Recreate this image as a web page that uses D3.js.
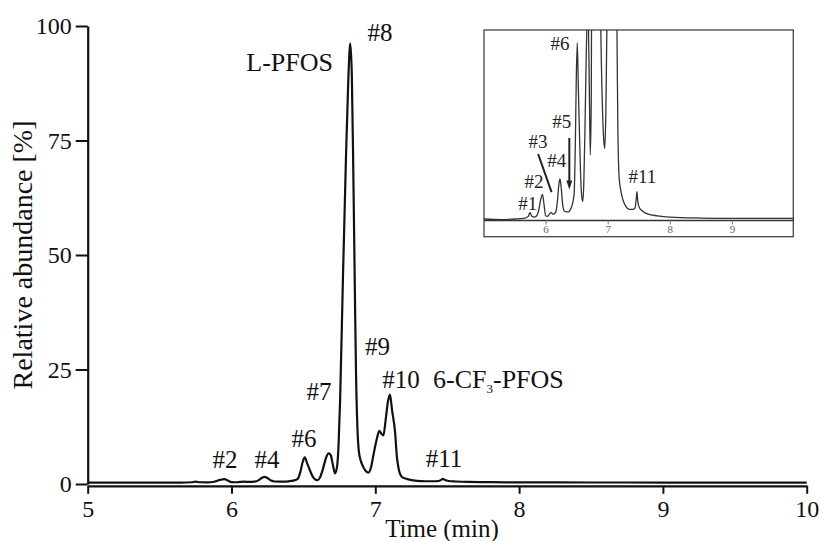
<!DOCTYPE html>
<html>
<head>
<meta charset="utf-8">
<script src="https://cdn.jsdelivr.net/npm/d3@7"></script>
<style>
  html, body { margin: 0; padding: 0; background: #fff; }
  svg { display: block; }
  svg text { font-family: "Liberation Serif", "Times New Roman", serif; }
</style>
</head>
<body>
<svg id="chart" width="821" height="541"></svg>
<script>
// ---- data ----
const timeMin = [5.00,5.30,5.50,5.65,5.72,5.75,5.78,5.83,5.88,5.92,5.95,5.975,6.00,6.03,6.06,6.09,6.12,6.16,6.19,6.215,6.232,6.25,6.275,6.30,6.34,6.37,6.40,6.43,6.46,6.48,6.495,6.51,6.525,6.545,6.565,6.585,6.60,6.615,6.635,6.655,6.675,6.69,6.705,6.72,6.735,6.745,6.755,6.775,6.795,6.812,6.826,6.837,6.848,6.858,6.866,6.876,6.886,6.90,6.915,6.935,6.952,6.97,6.988,7.008,7.028,7.042,7.056,7.072,7.088,7.102,7.117,7.137,7.15,7.162,7.184,7.21,7.245,7.29,7.35,7.40,7.44,7.458,7.47,7.485,7.51,7.56,7.65,7.80,8.00,8.50,9.00,9.50,10.00];
const abundance = [0.30,0.28,0.30,0.32,0.38,0.50,0.38,0.36,0.50,0.90,1.07,0.75,0.40,0.38,0.45,0.50,0.45,0.50,0.85,1.40,1.55,1.30,0.75,0.55,0.52,0.52,0.60,0.75,1.10,2.80,4.8,5.8,4.6,3.0,1.6,0.95,0.85,1.4,3.2,5.5,6.7,6.3,4.2,2.3,4.0,9,18,45,70,88,96.2,89,66,42,24,12,7,5,3.8,2.8,2.5,3.6,6.5,9.5,11.6,11.0,10.6,14,18,19.5,16,11.5,6,3.4,1.6,1.2,0.9,0.7,0.6,0.6,0.65,0.9,1.15,0.85,0.65,0.55,0.45,0.40,0.36,0.33,0.32,0.32,0.32];

const xTicks = [5,6,7,8,9,10];
const yTicks = [0,25,50,75,100];
const insetXTicks = [6,7,8,9];

const peakLabels = ["#2","#4","#6","#7","#8","#9","#10","#11"];
const peakLabelTime = [5.955,6.247,6.504,6.608,7.033,7.015,7.179,7.478];
const peakLabelLevel = [3.5,3.5,8.1,18.3,96.7,28.2,21.0,3.7];

const insetPeakLabels = ["#6","#5","#3","#4","#2","#1","#11"];
const insetLabelTime = [6.232,6.259,5.878,6.179,5.813,5.713,7.56];
const insetLabelLevel = [5.58,3.14,2.52,1.92,1.27,0.58,1.42];

// ---- drawing ----
const svg = d3.select("#chart");
const x = d3.scaleLinear().domain([5,10]).range([87.7,806.7]);
const y = d3.scaleLinear().domain([0,100]).range([484,26]);
const pts = timeMin.map((t,i)=>({t, v:abundance[i]}));

// main trace
const line = d3.line().x(d=>x(d.t)).y(d=>y(d.v)).curve(d3.curveMonotoneX);
svg.append("path").datum(pts).attr("d", line)
  .attr("fill","none").attr("stroke","#111").attr("stroke-width",2.2).attr("stroke-linejoin","round");

// axes
const xAxis = svg.append("g").attr("transform","translate(0,485.8)")
  .call(d3.axisBottom(x).tickValues(xTicks).tickFormat(d3.format("d")).tickSize(8).tickSizeOuter(0).tickPadding(6));
const yAxis = svg.append("g").attr("transform","translate(87.7,0)")
  .call(d3.axisLeft(y).tickValues(yTicks).tickFormat(d3.format("d")).tickSize(12).tickSizeOuter(0).tickPadding(4));
[xAxis,yAxis].forEach(g=>{
  g.attr("font-family",null).attr("font-size",null);
  g.selectAll("path.domain").attr("stroke","#111").attr("stroke-width",2.2);
  g.selectAll(".tick line").attr("stroke","#111").attr("stroke-width",2);
  g.selectAll(".tick text").attr("fill","#111").style("font-size","24px");
});

// axis titles
svg.append("text").attr("x",442).attr("y",537).attr("text-anchor","middle")
  .attr("fill","#111").style("font-size","25px").text("Time (min)");
svg.append("text").attr("transform","translate(32,255) rotate(-90)").attr("text-anchor","middle")
  .attr("fill","#111").style("font-size","28px").text("Relative abundance [%]");

// annotations
peakLabels.forEach((s,i)=>{
  svg.append("text").attr("x",x(peakLabelTime[i])).attr("y",y(peakLabelLevel[i])).attr("text-anchor","middle")
    .attr("fill","#111").style("font-size","25px").text(s);
});
svg.append("text").attr("x",333).attr("y",71).attr("text-anchor","end")
  .attr("fill","#111").style("font-size","26px").text("L-PFOS");
const cf = svg.append("text").attr("x",433).attr("y",388).attr("fill","#111").style("font-size","26px");
cf.append("tspan").text("6-CF");
cf.append("tspan").attr("dy",5).style("font-size","13px").text("3");
cf.append("tspan").attr("dy",-5).text("-PFOS");

// ---- inset ----
const box = {x0:484, x1:793.3, y0:30, y1:236.7};
const ix = d3.scaleLinear().domain([5,10]).range([483.5,794]);
const iy = d3.scaleLinear().domain([0,6.2]).range([228.6,30]);
const inset = svg.append("g");
inset.append("defs").append("clipPath").attr("id","insetClip")
  .append("rect").attr("x",box.x0).attr("y",box.y0).attr("width",box.x1-box.x0).attr("height",box.y1-box.y0);
inset.append("rect").attr("x",box.x0).attr("y",box.y0).attr("width",box.x1-box.x0).attr("height",box.y1-box.y0)
  .attr("fill","#fff").attr("stroke","#444").attr("stroke-width",1.3);
const iline = d3.line().x(d=>ix(d.t)).y(d=>iy(d.v)).curve(d3.curveMonotoneX);
inset.append("path").datum(pts).attr("d", iline).attr("clip-path","url(#insetClip)")
  .attr("fill","none").attr("stroke","#333").attr("stroke-width",1.3);
const iAxis = inset.append("g").attr("transform","translate(0,220.5)")
  .call(d3.axisBottom(ix).tickValues(insetXTicks).tickFormat(d3.format("d")).tickSize(4).tickSizeOuter(0).tickPadding(1));
iAxis.attr("font-family",null).attr("font-size",null);
iAxis.select("path.domain").attr("d",`M${box.x0},0H${box.x1}`).attr("stroke","#333").attr("stroke-width",1.3);
iAxis.selectAll(".tick line").attr("stroke","#777").attr("stroke-width",1);
iAxis.selectAll(".tick text").attr("fill","#666").style("font-size","11px");

insetPeakLabels.forEach((s,i)=>{
  inset.append("text").attr("x",ix(insetLabelTime[i])).attr("y",iy(insetLabelLevel[i])).attr("text-anchor","middle")
    .attr("fill","#222").style("font-size","19px").text(s);
});
// pointer for #3
inset.append("line").attr("x1",ix(5.88)).attr("y1",iy(2.33)).attr("x2",ix(6.096)).attr("y2",iy(1.14))
  .attr("stroke","#222").attr("stroke-width",2);
// arrow for #5
inset.append("line").attr("x1",ix(6.382)).attr("y1",iy(2.83)).attr("x2",ix(6.382)).attr("y2",iy(1.45))
  .attr("stroke","#222").attr("stroke-width",2);
inset.append("path")
  .attr("d",`M${ix(6.382)-3},${iy(1.5)}L${ix(6.382)+3},${iy(1.5)}L${ix(6.382)},${iy(1.22)}Z`)
  .attr("fill","#222");
</script>
</body>
</html>
